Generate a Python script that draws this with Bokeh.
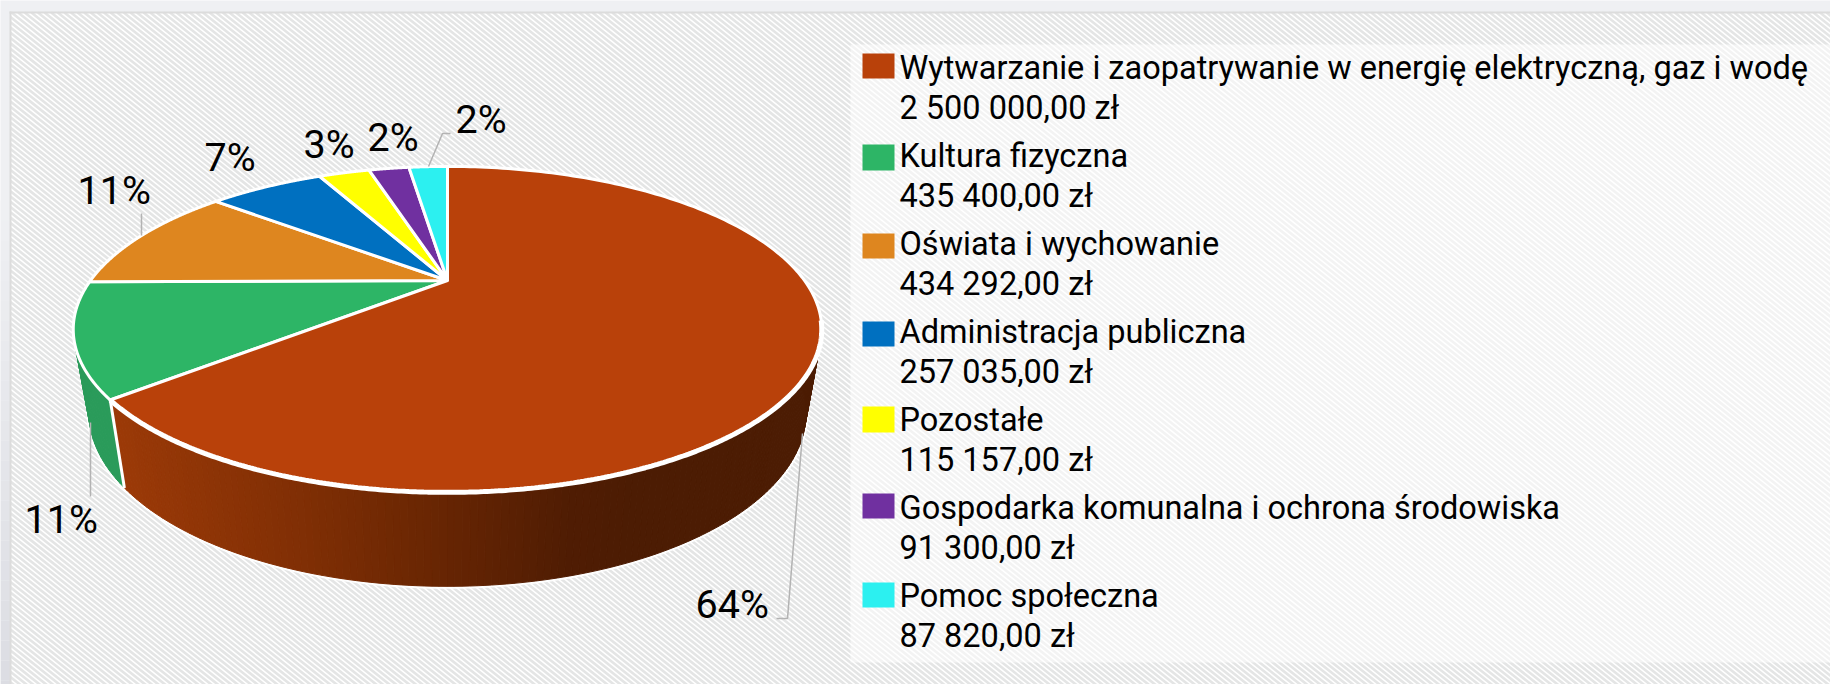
import numpy as np
from bokeh.plotting import figure
from bokeh.models import Range1d
from bokeh.core.properties import value
from bokeh.embed import file_html
from bokeh.resources import INLINE

categories = ["Wytwarzanie i zaopatrywanie w energię elektryczną, gaz i wodę", "Kultura fizyczna",
              "Oświata i wychowanie", "Administracja publiczna", "Pozostałe",
              "Gospodarka komunalna i ochrona środowiska", "Pomoc społeczna"]
amounts = [2500000.0, 435400.0, 434292.0, 257035.0, 115157.0, 91300.0, 87820.0]
amount_labels = ["2 500 000,00 zł", "435 400,00 zł", "434 292,00 zł", "257 035,00 zł",
                 "115 157,00 zł", "91 300,00 zł", "87 820,00 zł"]
percent_labels = ["64%", "11%", "11%", "7%", "3%", "2%", "2%"]
colors = ["#B9410A", "#2DB566", "#DE861F", "#0070C0", "#FFFF00", "#7030A0", "#2CF0F0"]

FONT = value("Roboto")
LEG_PX = 32.5
LAB_PX = 39.5
LEG = f"{LEG_PX}px"
LAB = f"{LAB_PX}px"
LIFT = 0.35  # the svg text baseline sits this many em below the requested y

p = figure(width=1830, height=684, output_backend="svg", toolbar_location=None,
           x_range=Range1d(0, 1830), y_range=Range1d(684, 0), min_border=0)
p.axis.visible = False
p.grid.visible = False
p.outline_line_color = None
p.background_fill_color = "#eff0f3"
p.border_fill_color = "#eff0f3"

# darker lower-left page band
band_y = np.arange(200, 684, 20.0)
band_r = np.interp(band_y, [200, 684], [0xef, 0xdc]).astype(int)
band_g = np.interp(band_y, [200, 684], [0xf0, 0xdd]).astype(int)
band_b = np.interp(band_y, [200, 684], [0xf3, 0xe3]).astype(int)
band_c = ["#%02x%02x%02x" % c for c in zip(band_r, band_g, band_b)]
p.quad(left=[0] * len(band_y), right=[10] * len(band_y), top=band_y, bottom=band_y + 20, fill_color=band_c, line_color=None)

# panel
p.quad(left=[10], right=[1840], top=[12], bottom=[700], fill_color="white", line_color=None)
SLOPE = 0.8
starts = np.arange(-880, 1830, 6.6)
lines_x = [[max(s, 10), s + 680 / SLOPE] for s in starts]
lines_y = [[12 + (max(s, 10) - s) * SLOPE, 692] for s in starts]
p.multi_line(lines_x, lines_y, line_color="#e4e5e5", line_width=2.6)
p.quad(left=[9], right=[11], top=[11], bottom=[700], fill_color="#dcdcdc", line_color=None)
p.quad(left=[9], right=[1840], top=[11], bottom=[13], fill_color="#dcdcdc", line_color=None)
p.quad(left=[850], right=[1840], top=[44], bottom=[662], fill_color="white", fill_alpha=0.55, line_color=None)

# pie geometry: circle seen through a perspective
CX, CY, B, A, K = 447.0, 280.0, 357.0, 148.3, 0.30
S_X, S_Y, Y0B = 0.958, 1.066, 360.0

def top(theta):
    X, Y = np.sin(theta), np.cos(theta)
    W = 1 + K * Y
    return CX + B * X / W, CY - A * Y / W

def bot(theta):
    x, y = top(theta)
    return CX + S_X * (x - CX), Y0B + S_Y * (y - CY)

vals = np.array(amounts)
edges = np.concatenate([[0], np.cumsum(vals)]) / vals.sum() * 2 * np.pi

# white halo under the body
t = np.linspace(edges[0], edges[2], 300)
bx, by = bot(t)
p.line(bx, by, line_color="white", line_width=5, line_alpha=0.9)

# side walls
def wall_color(x):
    xs = [111, 300, 450, 570, 640, 830]
    r = np.interp(x, xs, [0x9c, 0x80, 0x66, 0x50, 0x4c, 0x4c])
    g = np.interp(x, xs, [0x3a, 0x2f, 0x25, 0x1d, 0x1c, 0x1c])
    b = np.interp(x, xs, [0x08, 0x05, 0x03, 0x03, 0x03, 0x03])
    return "#%02x%02x%02x" % (int(r), int(g), int(b))

def wall(t0, t1, n, color_fn):
    tt = np.linspace(t0, t1, n + 1)
    xsq, ysq, cols = [], [], []
    for a0, a1 in zip(tt[:-1], tt[1:]):
        x0, y0 = top(a0); x1, y1 = top(a1)
        x2, y2 = bot(a1); x3, y3 = bot(a0)
        xsq.append([x0, x1, x2, x3]); ysq.append([y0, y1, y2, y3])
        cols.append(color_fn((x0 + x1) / 2))
    p.patches(xsq, ysq, fill_color=cols, line_color=cols, line_width=1)

wall(edges[1], edges[2], 30, lambda x: "#2a9b5a")
wall(edges[0], edges[1], 260, wall_color)
x0, y0 = top(edges[1]); x1, y1 = bot(edges[1])
p.line([x0, x1], [y0, y1], line_color="white", line_width=3)

# top faces
for i in [1, 2, 3, 4, 5, 6, 0]:
    tt = np.linspace(edges[i], edges[i + 1], 200)
    xx, yy = top(tt)
    p.patch(np.r_[CX, xx], np.r_[CY, yy], fill_color=colors[i], line_color="white", line_width=3, line_join="round")

# heavier front rim of the big slice
t = np.linspace(np.pi * 0.58, edges[1], 300)
rx, ry = top(t)
p.line(rx, ry, line_color="white", line_width=5)

# leader lines
leaders = [([776, 787, 802], [618, 618, 433]), ([90, 90], [422, 496]), ([141, 141], [213, 235]), ([450, 442, 428], [133, 133, 166])]
for lx, ly in leaders:
    p.line(lx, ly, line_color="#b3b3b3", line_width=1.5)

# percent labels
lab_x = [695, 24, 77, 204, 303, 367, 455]
lab_y = [618, 533, 204, 171, 158, 151, 133]
p.text(lab_x, [y - LIFT * LAB_PX for y in lab_y], text=percent_labels, text_font=FONT, text_font_size=LAB,
       text_color="#000000", text_baseline="alphabetic", text_align="left")

# legend
sw_top = [53, 144, 233, 321, 406, 493, 582]
sw_bot = [78, 170, 258, 346, 432, 518, 607]
p.quad(left=[862] * 7, right=[894] * 7, top=sw_top, bottom=sw_bot, fill_color=colors, line_color=None)
base = [79, 167, 255, 343, 431, 519, 607]
shift = LIFT * LEG_PX
p.text([899] * 7, [b - shift for b in base], text=categories, text_font=FONT, text_font_size=LEG, text_color="#000000",
       text_baseline="alphabetic", text_align="left")
p.text([899] * 7, [b + 40 - shift for b in base], text=amount_labels, text_font=FONT, text_font_size=LEG,
       text_color="#000000", text_baseline="alphabetic", text_align="left")

open("out.html", "w").write(file_html(p, INLINE))
